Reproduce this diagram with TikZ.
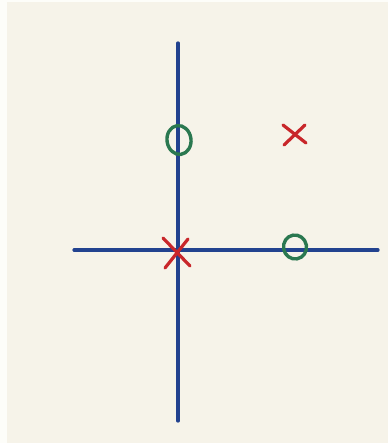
\documentclass[tikz,border=0pt]{standalone}
\definecolor{paper}{HTML}{F6F3E9}
\definecolor{margin}{HTML}{FDFDF9}
\definecolor{axisblue}{HTML}{22428F}
\definecolor{zerogreen}{HTML}{2A7850}
\definecolor{polered}{HTML}{C8262A}
\tikzset{
  axis/.style={draw=axisblue, line width=3.2pt, line cap=round},
  zeromark/.style={draw=zerogreen, line width=3.4pt},
  polemark/.style={draw=polered, line width=3.2pt, line cap=round},
}
\begin{document}
\begin{tikzpicture}[x=1pt,y=-1pt]
\useasboundingbox (0,0) rectangle (388,443);
\fill[margin] (0,0) rectangle (388,443);
\fill[paper] (7,2) rectangle (388,443);
% axes
\coordinate (top) at (178,43);
\coordinate (bottom) at (178,421);
\coordinate (left) at (74,250);
\coordinate (right) at (378,250);
\draw[axis] (top) -- (bottom);
\draw[axis] (left) -- (right);
% zeros
\draw[zeromark, rotate around={8:(179,140)}] (179,140) ellipse [x radius=12, y radius=14.5];
\draw[zeromark, rotate around={10:(295,247)}] (295,247) ellipse [x radius=11.5, y radius=12];
% poles
\coordinate (p1) at (294,135);
\draw[polemark] (283,125) -- (306,143);
\draw[polemark] (305,125) -- (284,145);
\coordinate (p0) at (177,252);
\draw[polemark] (163,238) -- (190,266);
\draw[polemark] (188,239) -- (165,268);
\end{tikzpicture}
\end{document}
